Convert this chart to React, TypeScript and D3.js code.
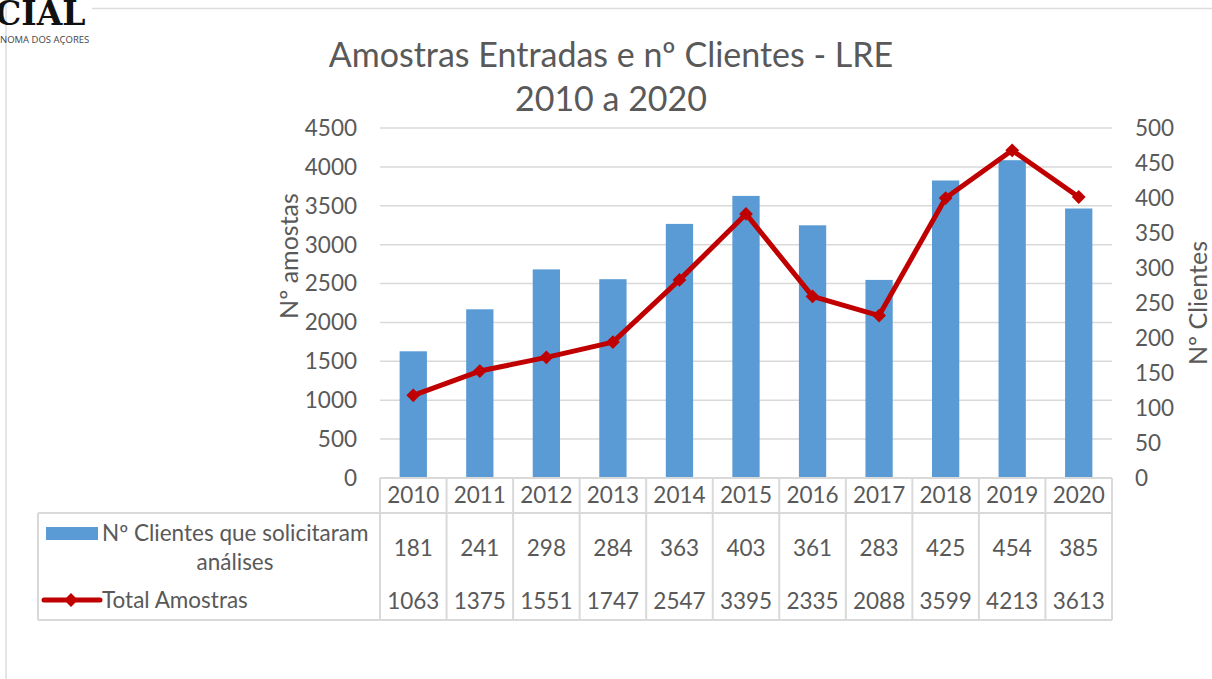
import React from 'react';
import * as d3 from 'd3';

const years = ['2010', '2011', '2012', '2013', '2014', '2015', '2016', '2017', '2018', '2019', '2020'];
const clientes = [181, 241, 298, 284, 363, 403, 361, 283, 425, 454, 385];
const amostras = [1063, 1375, 1551, 1747, 2547, 3395, 2335, 2088, 3599, 4213, 3613];
const leftTicks = [0, 500, 1000, 1500, 2000, 2500, 3000, 3500, 4000, 4500];
const rightTicks = [0, 50, 100, 150, 200, 250, 300, 350, 400, 450, 500];

const W = 1212;
const H = 679;
const FONT = 'Lato, Carlito, Calibri, sans-serif';
const TEXT = '#595959';
const GRID = '#d9d9d9';
const BLUE = '#5b9bd5';
const RED = '#c00000';
const FS = 22.5;

const App = () => {
  const plotL = 380;
  const plotR = 1112;
  const plotT = 128;
  const plotB = 478;

  const x = d3.scaleBand<string>().domain(years).range([plotL, plotR]).padding(0);
  const yLeft = d3.scaleLinear().domain([0, 4500]).range([plotB, plotT]);
  const yRight = d3.scaleLinear().domain([0, 500]).range([plotB, plotT]);
  const bw = x.bandwidth();
  const barW = bw * 0.41;
  const cx = (y: string) => (x(y) as number) + bw / 2;

  const linePath = d3.line<number>()
    .x((_, i) => cx(years[i]))
    .y(d => yLeft(d))(amostras) as string;

  const diamond = d3.symbol().type(d3.symbolSquare).size(95)() as string;

  const headerTop = plotB;
  const headerBot = 512;
  const bodyTop = 513;
  const bodyBot = 620;
  const legendL = 38;

  return (
    <svg width={W} height={H} style={{ position: 'absolute', left: 0, top: 0, background: '#fff' }}
      fontFamily={FONT}>
      <rect x={0} y={0} width={W} height={H} fill="#fff" />
      {/* page fragment behind the chart */}
      <line x1={92} x2={W} y1={8.5} y2={8.5} stroke="#dcdcdc" strokeWidth={1.5} />
      <line x1={6} x2={6} y1={0} y2={H} stroke="#dcdcdc" strokeWidth={1.5} />
      <text x={-5} y={25} fontFamily="'DejaVu Serif', serif" fontWeight="bold" fontSize={33} fill="#111">CIAL</text>
      <text x={0} y={43} fontFamily="'Open Sans', sans-serif" fontSize={9.5} fill="#444">NOMA DOS AÇORES</text>

      {/* title */}
      <text x={611} y={67} textAnchor="middle" fontSize={34} fill={TEXT}>Amostras Entradas e nº Clientes - LRE</text>
      <text x={611} y={111} textAnchor="middle" fontSize={34} fill={TEXT}>2010 a 2020</text>

      {/* gridlines */}
      {leftTicks.map(t => (
        <line key={'g' + t} x1={plotL} x2={plotR} y1={yLeft(t)} y2={yLeft(t)} stroke={GRID} strokeWidth={1.5} />
      ))}

      {/* left axis labels */}
      {leftTicks.map(t => (
        <text key={'l' + t} x={357} y={yLeft(t)} dy="0.35em" textAnchor="end" fontSize={FS} fill={TEXT}>{t}</text>
      ))}
      {/* right axis labels */}
      {rightTicks.map(t => (
        <text key={'r' + t} x={1135} y={yRight(t)} dy="0.35em" textAnchor="start" fontSize={FS} fill={TEXT}>{t}</text>
      ))}
      <text transform="translate(298,256) rotate(-90)" textAnchor="middle" fontSize={25} fill={TEXT}>Nº amostas</text>
      <text transform="translate(1207,303) rotate(-90)" textAnchor="middle" fontSize={25} fill={TEXT}>Nº Clientes</text>

      {/* bars */}
      {clientes.map((v, i) => (
        <rect key={'b' + i} x={cx(years[i]) - barW / 2} y={yRight(v)} width={barW}
          height={plotB - yRight(v)} fill={BLUE} />
      ))}

      {/* line */}
      <path d={linePath} fill="none" stroke={RED} strokeWidth={5} strokeLinejoin="round" />
      {amostras.map((v, i) => (
        <path key={'m' + i} d={diamond} fill={RED}
          transform={`translate(${cx(years[i])},${yLeft(v)}) rotate(45)`} />
      ))}

      {/* data table */}
      <g stroke={GRID} strokeWidth={2} fill="none">
        <line x1={plotL} x2={plotR} y1={headerTop} y2={headerTop} />
        <line x1={legendL} x2={plotR} y1={bodyTop} y2={bodyTop} />
        <line x1={legendL} x2={plotR} y1={bodyBot} y2={bodyBot} />
        <line x1={legendL} x2={legendL} y1={bodyTop} y2={bodyBot} />
        {years.map(yr => (
          <line key={'v' + yr} x1={x(yr)} x2={x(yr)} y1={headerTop} y2={bodyBot} />
        ))}
        <line x1={plotR} x2={plotR} y1={headerTop} y2={bodyBot} />
      </g>
      {years.map(yr => (
        <text key={'h' + yr} x={cx(yr)} y={(headerTop + headerBot) / 2} dy="0.35em" textAnchor="middle"
          fontSize={FS} fill={TEXT}>{yr}</text>
      ))}
      {clientes.map((v, i) => (
        <text key={'c' + i} x={cx(years[i])} y={548} dy="0.35em" textAnchor="middle" fontSize={FS} fill={TEXT}>{v}</text>
      ))}
      {amostras.map((v, i) => (
        <text key={'a' + i} x={cx(years[i])} y={601} dy="0.35em" textAnchor="middle" fontSize={FS} fill={TEXT}>{v}</text>
      ))}

      {/* legend keys */}
      <rect x={46} y={527} width={52} height={13} fill={BLUE} />
      <text x={102} y={533} dy="0.35em" fontSize={FS} fill={TEXT}>Nº Clientes que solicitaram</text>
      <text x={235} y={562} dy="0.35em" textAnchor="middle" fontSize={FS} fill={TEXT}>análises</text>
      <line x1={44} x2={100} y1={600} y2={600} stroke={RED} strokeWidth={5} strokeLinecap="round" />
      <path d={diamond} fill={RED} transform="translate(71,600) rotate(45)" />
      <text x={102} y={600} dy="0.35em" fontSize={FS} fill={TEXT}>Total Amostras</text>
    </svg>
  );
};

export default App;
